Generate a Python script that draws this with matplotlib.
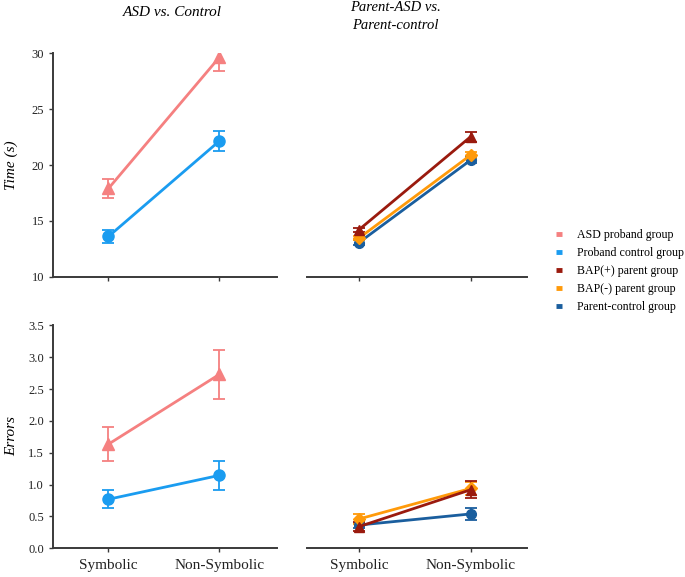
import numpy as np
import matplotlib
matplotlib.use("Agg")
import matplotlib.pyplot as plt
from matplotlib.lines import Line2D

plt.rcParams['font.family'] = "serif"
plt.rcParams['font.serif'] = ["Liberation Serif", "DejaVu Serif"]

conditions = ["Symbolic", "Non-Symbolic"]

# reaction time (s), mean and sem
time_asd = [17.9, 29.65]
time_asd_err = [0.85, 1.25]
time_ctrl = [13.6, 22.15]
time_ctrl_err = [0.6, 0.88]
time_bap_pos = [14.2, 22.55]
time_bap_pos_err = [0.2, 0.45]
time_bap_neg = [13.45, 20.9]
time_bap_neg_err = [0.2, 0.3]
time_par_ctrl = [13.05, 20.45]
time_par_ctrl_err = [0.2, 0.3]

# errors, mean and sem
err_asd = [1.635, 2.73]
err_asd_err = [0.265, 0.39]
err_ctrl = [0.77, 1.145]
err_ctrl_err = [0.14, 0.23]
err_bap_pos = [0.34, 0.92]
err_bap_pos_err = [0.07, 0.13]
err_bap_neg = [0.46, 0.94]
err_bap_neg_err = [0.08, 0.1]
err_par_ctrl = [0.365, 0.54]
err_par_ctrl_err = [0.04, 0.095]

labels = ["ASD proband group", "Proband control group", "BAP(+) parent group",
          "BAP(-) parent group", "Parent-control group"]
colors = ["#F58080", "#1A9CF0", "#9A1A0E", "#FF9A0A", "#1A5E9E"]

spine_c = "#3a3a3a"
x = np.arange(len(conditions))

fig = plt.figure(figsize=(6.85, 5.77), dpi=100)
ax_tl = fig.add_axes([0.0774, 0.5205, 0.327, 0.387])
ax_tr = fig.add_axes([0.448, 0.5205, 0.321, 0.387])
ax_bl = fig.add_axes([0.0774, 0.0497, 0.327, 0.3865])
ax_br = fig.add_axes([0.448, 0.0497, 0.321, 0.3865])


def draw(ax, y, e, c, m, ms):
    ax.errorbar(x, y, yerr=e, color=c, marker=m, ms=ms, lw=2, elinewidth=1.3,
                capsize=4, capthick=1.3, zorder=3)


draw(ax_tl, time_asd, time_asd_err, colors[0], "^", 8)
draw(ax_tl, time_ctrl, time_ctrl_err, colors[1], "o", 8)
draw(ax_tr, time_par_ctrl, time_par_ctrl_err, colors[4], "o", 7)
draw(ax_tr, time_bap_neg, time_bap_neg_err, colors[3], "D", 6)
draw(ax_tr, time_bap_pos, time_bap_pos_err, colors[2], "^", 7)

draw(ax_bl, err_asd, err_asd_err, colors[0], "^", 8)
draw(ax_bl, err_ctrl, err_ctrl_err, colors[1], "o", 8)
draw(ax_br, err_par_ctrl, err_par_ctrl_err, colors[4], "o", 7)
draw(ax_br, err_bap_neg, err_bap_neg_err, colors[3], "D", 6)
draw(ax_br, err_bap_pos, err_bap_pos_err, colors[2], "^", 7)

for ax in [ax_tl, ax_tr]:
    ax.set_ylim(10, 30)
    ax.set_yticks([10, 15, 20, 25, 30])
for ax in [ax_bl, ax_br]:
    ax.set_ylim(0, 3.5)
    ax.set_yticks(np.arange(0, 3.51, 0.5))
    ax.set_yticklabels([f"{t:.1f}" for t in np.arange(0, 3.51, 0.5)])

for ax in [ax_tl, ax_bl]:
    ax.set_xlim(-0.5, 1.52)
for ax in [ax_tr, ax_br]:
    ax.set_xlim(-0.465, 1.5)

for ax in [ax_tl, ax_tr, ax_bl, ax_br]:
    ax.set_xticks(x)
    ax.spines["top"].set_visible(False)
    ax.spines["right"].set_visible(False)
    ax.spines["bottom"].set_color(spine_c)
    ax.spines["left"].set_color(spine_c)
    ax.spines["bottom"].set_linewidth(1.4)
    ax.spines["left"].set_linewidth(1.4)
    ax.tick_params(colors=spine_c, labelcolor="#222222", length=3, width=1, labelsize=9)
    ax.tick_params(axis="x", labelsize=11, pad=5)

for ax in [ax_tl, ax_tr]:
    ax.set_xticklabels([])
for ax in [ax_bl, ax_br]:
    ax.set_xticklabels(conditions)
for ax in [ax_tr, ax_br]:
    ax.spines["left"].set_visible(False)
    ax.tick_params(axis="y", left=False, labelleft=False)

fig.text(0.251, 0.979, "ASD vs. Control", ha="center", va="center", fontsize=11, style="italic")
fig.text(0.577, 0.998, "Parent-ASD vs.\nParent-control", ha="center", va="top",
         fontsize=10.5, style="italic", linespacing=1.45)
fig.text(0.017, 0.714, "Time (s)", ha="center", va="center", rotation=90, fontsize=11, style="italic")
fig.text(0.017, 0.245, "Errors", ha="center", va="center", rotation=90, fontsize=11, style="italic")

handles = [Line2D([], [], color=c, lw=3.5, solid_capstyle="butt") for c in colors]
fig.legend(handles, labels, loc="upper left", bbox_to_anchor=(0.805, 0.611),
           frameon=False, fontsize=8.6, handlelength=0.5, handletextpad=1.2,
           labelspacing=0.5, borderaxespad=0)

fig.savefig("out.png", dpi=100)
